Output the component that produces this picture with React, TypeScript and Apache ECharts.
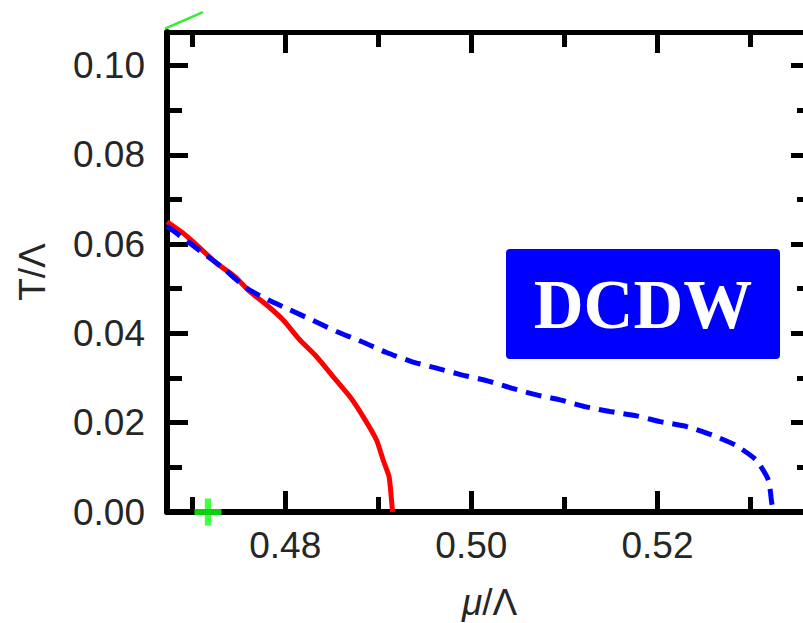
import React, { useEffect, useRef } from "react";
import * as echarts from "echarts";

// Red solid curve (mu/Lambda, T/Lambda)
const muRed = [0.4673, 0.46901, 0.47045, 0.4726, 0.47457, 0.47618, 0.47798, 0.47976, 0.48156, 0.48335, 0.48514, 0.48694, 0.48837, 0.48981, 0.49052, 0.49116, 0.49142, 0.49153];
const tRed = [0.065, 0.06249, 0.05987, 0.05576, 0.05276, 0.04939, 0.04641, 0.04305, 0.03857, 0.03482, 0.03034, 0.02585, 0.02137, 0.01614, 0.01166, 0.00791, 0.00269, 0.0];

// Blue dashed curve
const muBlue = [0.4673, 0.46901, 0.47116, 0.47331, 0.47583, 0.47815, 0.48048, 0.48299, 0.48551, 0.48819, 0.49088, 0.49357, 0.49626, 0.49895, 0.50163, 0.50432, 0.50701, 0.50952, 0.5122, 0.51489, 0.51776, 0.52027, 0.52314, 0.52583, 0.52833, 0.53059, 0.53191, 0.53228, 0.53245];
const tBlue = [0.064, 0.06137, 0.058, 0.05464, 0.05016, 0.04753, 0.04529, 0.04289, 0.04043, 0.03818, 0.03572, 0.0337, 0.03222, 0.03072, 0.02944, 0.02774, 0.02623, 0.02511, 0.02361, 0.02249, 0.02152, 0.02025, 0.01913, 0.01726, 0.01502, 0.01166, 0.00717, 0.00195, 0.0];

// Green segment (top-left, outside the frame)
const muGreen = [0.46632, 0.47116];
const tGreen = [0.10756, 0.11195];

// Green cross marker
const muCross = [0.4717];
const tCross = [0.0];

// Axis ranges and ticks
const muRange = [0.4673, 0.5366];
const tRange = [0, 0.1075];
const muTicksMajor = [0.48, 0.5, 0.52];
const muTicksMinor = [0.47, 0.49, 0.51, 0.53];
const tTicksMajor = [0, 0.02, 0.04, 0.06, 0.08, 0.1];
const tTicksMinor = [0.01, 0.03, 0.05, 0.07, 0.09];

const boxLabel = "DCDW";
const xName = "{i|μ}/Λ";
const yName = "T/Λ";

const FONT = '"Liberation Sans", Arial, sans-serif';
const TEXT_COLOR = "#262626";
const zip = (a: number[], b: number[]) => a.map((v, i) => [v, b[i]]);

function makeAxis(
  kind: "x" | "y",
  position: string,
  ticks: number[],
  len: number,
  showLine: boolean,
  showLabels: boolean,
  lineWidth: number
) {
  const range = kind === "x" ? muRange : tRange;
  const ax: any = {
    type: "value",
    position,
    min: range[0],
    max: range[1],
    splitLine: { show: false },
    axisLine: {
      show: showLine,
      onZero: false,
      lineStyle: { color: "#000", width: lineWidth },
    },
    axisTick: {
      show: true,
      inside: true,
      length: len,
      customValues: ticks,
      lineStyle: { color: "#000", width: 5 },
    },
    axisLabel: { show: false },
  };
  if (showLabels) {
    ax.axisLabel = {
      show: true,
      customValues: ticks,
      formatter: (v: number) => v.toFixed(2),
      fontSize: 37,
      lineHeight: 37,
      fontFamily: FONT,
      color: TEXT_COLOR,
      margin: kind === "x" ? 15 : 22,
    };
  }
  return ax;
}

export default function App() {
  const ref = useRef<HTMLDivElement>(null);
  useEffect(() => {
    if (!ref.current) return;
    const chart = echarts.init(ref.current, null, { renderer: "svg" });
    const xAxes = [
      makeAxis("x", "bottom", muTicksMajor, 21, true, true, 6),
      makeAxis("x", "bottom", muTicksMinor, 15, false, false, 6),
      makeAxis("x", "top", muTicksMajor, 21, true, false, 5),
      makeAxis("x", "top", muTicksMinor, 15, false, false, 5),
    ];
    xAxes[0].name = xName;
    xAxes[0].nameLocation = "middle";
    xAxes[0].nameGap = 72;
    xAxes[0].nameTextStyle = {
      fontSize: 37,
      lineHeight: 37,
      fontFamily: FONT,
      color: TEXT_COLOR,
      rich: { i: { fontSize: 37, lineHeight: 37, fontFamily: FONT, fontStyle: "italic", color: TEXT_COLOR } },
    };
    const yAxes = [
      makeAxis("y", "left", tTicksMajor, 21, true, true, 6),
      makeAxis("y", "left", tTicksMinor, 15, false, false, 6),
      makeAxis("y", "right", tTicksMajor, 21, true, false, 6),
      makeAxis("y", "right", tTicksMinor, 15, false, false, 6),
    ];
    yAxes[0].name = yName;
    yAxes[0].nameLocation = "middle";
    yAxes[0].nameGap = 116;
    yAxes[0].nameRotate = 90;
    yAxes[0].nameTextStyle = { fontSize: 37, lineHeight: 37, fontFamily: FONT, color: TEXT_COLOR };

    chart.setOption({
      animation: false,
      backgroundColor: "#ffffff",
      grid: { left: 167, top: 32, right: -9, bottom: 111, containLabel: false, outerBoundsMode: "none" },
      xAxis: xAxes,
      yAxis: yAxes,
      graphic: [
        {
          type: "rect",
          left: 506,
          top: 249,
          shape: { width: 274, height: 110, r: 4 },
          style: { fill: "#0000ff" },
          z: 10,
        },
        {
          type: "text",
          x: 643,
          y: 305,
          z: 11,
          style: {
            text: boxLabel,
            fill: "#ffffff",
            font: 'bold 69px "Liberation Serif", "Times New Roman", serif',
            align: "center",
            verticalAlign: "middle",
          },
        },
      ],
      series: [
        {
          type: "line",
          data: zip(muRed, tRed),
          showSymbol: false,
          symbol: "none",
          smooth: 0.2,
          lineStyle: { color: "#ff0000", width: 5 },
          z: 3,
        },
        {
          type: "line",
          data: zip(muBlue, tBlue),
          showSymbol: false,
          symbol: "none",
          smooth: 0.2,
          lineStyle: { color: "#0000ff", width: 5, type: [16, 9] },
          z: 4,
        },
        {
          type: "line",
          data: zip(muGreen, tGreen),
          showSymbol: false,
          symbol: "none",
          clip: false,
          lineStyle: { color: "#33ee33", width: 2.5 },
          z: 4,
        },
        {
          type: "scatter",
          data: zip(muCross, tCross),
          symbol: "path://M10,0 L16,0 L16,10 L26,10 L26,16 L16,16 L16,26 L10,26 L10,16 L0,16 L0,10 L10,10 Z",
          symbolSize: 27,
          clip: false,
          itemStyle: { color: "#11ff11" },
          z: 5,
        },
      ],
    });
    return () => chart.dispose();
  }, []);
  return (
    <div
      ref={ref}
      style={{ position: "fixed", left: 0, top: 0, width: 803, height: 623, background: "#fff" }}
    />
  );
}
